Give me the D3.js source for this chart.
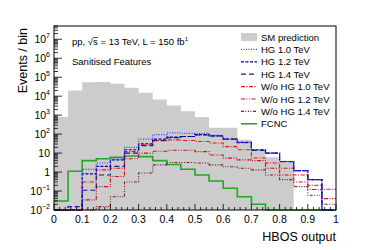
<!DOCTYPE html>
<html>
<head>
<meta charset="utf-8">
<script src="https://cdn.jsdelivr.net/npm/d3@7"></script>
<style>
body { margin: 0; background: #fff; }
svg text { font-family: "Liberation Sans", Arial, sans-serif; fill: #000; }
</style>
</head>
<body>
<div id="plot"></div>
<script>
// 20 bins of width 0.05 over the HBOS output
var binEdges = d3.range(0, 20).map(function(i) { return i * 0.05; });
var sm   = [800, 20000, 55000, 56000, 45000, 28000, 15000, 6600, 3200, 1600, 800, 220, 220, 50, 15, 6, 4, 0, 0, 0];
var hg10 = [0, 0, 1.4, 3, 5, 20, 55, 93, 115, 110, 110, 85, 55, 37, 15, 10, 3.6, 1.2, 0.4, 0];
var hg12 = [0, 0, 0.8, 2, 4.4, 15, 31, 55, 70, 75, 95, 80, 55, 37, 15, 10, 3.6, 1.2, 0.4, 0];
var hg14 = [0, 0.015, 0.11, 0.7, 2, 10, 25, 45, 65, 75, 90, 80, 55, 35, 14, 10, 3.5, 1.2, 0.4, 0];
var wo10 = [0, 0, 0.3, 1.3, 1.6, 12, 27, 46, 50, 46, 41, 34, 22, 15, 5.5, 3, 1.6, 0.7, 0.2, 0.125];
var wo12 = [0, 0, 0.034, 0.17, 0.58, 5, 10, 12.5, 14, 14, 12, 8, 5.4, 4.4, 4, 1.6, 0.7, 0.3, 0.12, 0.04];
var wo14 = [0, 0, 0, 0.015, 0.05, 0.3, 0.9, 2.4, 3.2, 3.2, 3, 2.4, 1.9, 1.6, 1.3, 0.7, 0.4, 0.17, 0.06, 0.02];
var fcnc = [0.03, 1.1, 4, 5, 6, 7, 6.5, 4, 2.5, 1.4, 0.7, 0.34, 0.14, 0.05, 0.02, 0, 0, 0, 0, 0];

var xTicks = d3.range(0, 11).map(function(i) { return i / 10; });
var yTicks = d3.range(-2, 8);

var series = [
	{name: "HG 1.0 TeV",     values: hg10, color: "#3b3bff", dash: "1,1.5", width: 1.2},
	{name: "HG 1.2 TeV",     values: hg12, color: "#000099", dash: "3,1.5", width: 1.2},
	{name: "HG 1.4 TeV",     values: hg14, color: "#1c1c7a", dash: "5,3",   width: 1.2},
	{name: "W/o HG 1.0 TeV", values: wo10, color: "#ee1111", dash: "4,1.5,1,1.5", width: 1.1},
	{name: "W/o HG 1.2 TeV", values: wo12, color: "#c81414", dash: "4,1.5,1,1.5,1,1.5", width: 1.1},
	{name: "W/o HG 1.4 TeV", values: wo14, color: "#7a1e1e", dash: "3,1.5,1,1.5,1,1.5,1,1.5", width: 1.1},
	{name: "FCNC",           values: fcnc, color: "#22a822", dash: null,    width: 1.6}
];

var W = 366, H = 250;
var margin = {top: 26, right: 30, bottom: 40, left: 54};
var width = W - margin.left - margin.right;
var height = H - margin.top - margin.bottom;

var svg = d3.select("#plot").append("svg")
	.attr("width", W)
	.attr("height", H);

var g = svg.append("g")
	.attr("transform", "translate(" + margin.left + "," + margin.top + ")");

var x = d3.scaleLinear().domain([0, 1]).range([0, width]);
var y = d3.scaleLog().domain([1e-2, Math.pow(10, 7.7)]).range([height, 0]);

function yv(v) { return v > 1e-2 ? y(v) : height; }

function stepPoints(vals) {
	var pts = vals.map(function(v, i) { return [binEdges[i], v]; });
	pts.push([1, vals[vals.length - 1]]);
	return pts;
}

// SM prediction as filled histogram
var area = d3.area()
	.curve(d3.curveStepAfter)
	.x(function(d) { return x(d[0]); })
	.y0(height)
	.y1(function(d) { return yv(d[1]); });

g.append("path")
	.attr("d", area(stepPoints(sm)))
	.style("fill", "#cccccc")
	.style("stroke", "none");

var line = d3.line()
	.curve(d3.curveStepAfter)
	.x(function(d) { return x(d[0]); })
	.y(function(d) { return yv(d[1]); });

series.slice().reverse().forEach(function(s) {
	g.append("path")
		.attr("d", line(stepPoints(s.values)))
		.style("fill", "none")
		.style("stroke", s.color)
		.style("stroke-width", s.width)
		.style("stroke-dasharray", s.dash);
});

// frame
g.append("rect")
	.attr("width", width)
	.attr("height", height)
	.style("fill", "none")
	.style("stroke", "#000")
	.style("stroke-width", 1);

// x axis ticks (inside, pointing up)
var xMinor = d3.range(0, 51).map(function(i) { return i / 50; });
g.append("g").selectAll("line")
	.data(xMinor)
	.enter().append("line")
	.attr("x1", function(d) { return x(d); })
	.attr("x2", function(d) { return x(d); })
	.attr("y1", height)
	.attr("y2", function(d, i) { return i % 5 == 0 ? height - 6 : height - 3; })
	.style("stroke", "#000")
	.style("stroke-width", 0.8);

g.append("g").selectAll("text")
	.data(xTicks)
	.enter().append("text")
	.attr("x", function(d) { return x(d); })
	.attr("y", height + 13)
	.attr("text-anchor", "middle")
	.style("font-size", "10.5px")
	.text(function(d) { return d == 0 || d == 1 ? String(d) : d.toFixed(1); });

// y axis ticks (log, inside, pointing right)
var yMinor = [];
yTicks.forEach(function(e) {
	for (var k = 1; k < 10; k++) {
		var v = k * Math.pow(10, e);
		if (v <= y.domain()[1]) yMinor.push({v: v, major: k == 1});
	}
});
g.append("g").selectAll("line")
	.data(yMinor)
	.enter().append("line")
	.attr("x1", 0)
	.attr("x2", function(d) { return d.major ? 8 : 4; })
	.attr("y1", function(d) { return y(d.v); })
	.attr("y2", function(d) { return y(d.v); })
	.style("stroke", "#000")
	.style("stroke-width", 0.8);

var yLab = g.append("g").selectAll("text")
	.data(yTicks)
	.enter().append("text")
	.attr("x", -4)
	.attr("y", function(d) { return y(Math.pow(10, d)) + 4; })
	.attr("text-anchor", "end")
	.style("font-size", "10.5px");
yLab.each(function(d) {
	var t = d3.select(this);
	if (d == 0) { t.text("1"); return; }
	if (d == 1) { t.text("10"); return; }
	t.append("tspan").text("10");
	t.append("tspan")
		.attr("dy", -5)
		.style("font-size", "7px")
		.text(d < 0 ? "\u2212" + (-d) : String(d));
});

// axis titles
svg.append("text")
	.attr("x", margin.left + width)
	.attr("y", 241)
	.attr("text-anchor", "end")
	.style("font-size", "12.5px")
	.text("HBOS output");

svg.append("text")
	.attr("transform", "translate(27," + (margin.top + 2) + ") rotate(-90)")
	.attr("text-anchor", "end")
	.style("font-size", "12.5px")
	.text("Events / bin");

// labels inside the frame
var lab = svg.append("text")
	.attr("x", 72)
	.attr("y", 45)
	.style("font-size", "9.5px");
lab.append("tspan").text("pp, \u221A");
var sSpan = lab.append("tspan").text("s");
lab.append("tspan").text(" = 13 TeV, L = 150 fb");
lab.append("tspan").attr("dy", -4).style("font-size", "6px").text("1");
// overline over the s of sqrt(s)
var sBox = sSpan.node().getBBox ? lab.node().getExtentOfChar(5) : null;
if (sBox) {
	svg.append("line")
		.attr("x1", sBox.x)
		.attr("x2", sBox.x + sBox.width)
		.attr("y1", 45 - 7.5)
		.attr("y2", 45 - 7.5)
		.style("stroke", "#000")
		.style("stroke-width", 0.7);
}
svg.append("text")
	.attr("x", 72)
	.attr("y", 65)
	.style("font-size", "9.5px")
	.text("Sanitised Features");

// legend
var legend = svg.append("g").attr("transform", "translate(241,37)");
var rows = [{name: "SM prediction", fill: true}].concat(series);
rows.forEach(function(r, i) {
	var row = legend.append("g").attr("transform", "translate(0," + (i * 12.4) + ")");
	if (r.fill) {
		row.append("rect")
			.attr("x", 0).attr("y", -4)
			.attr("width", 16).attr("height", 8)
			.style("fill", "#cccccc");
	} else {
		row.append("line")
			.attr("x1", 0).attr("x2", 16)
			.attr("y1", 0).attr("y2", 0)
			.style("stroke", r.color)
			.style("stroke-width", r.width)
			.style("stroke-dasharray", r.dash);
	}
	row.append("text")
		.attr("x", 20)
		.attr("y", 3.5)
		.style("font-size", "9.5px")
		.text(r.name);
});
</script>
</body>
</html>
